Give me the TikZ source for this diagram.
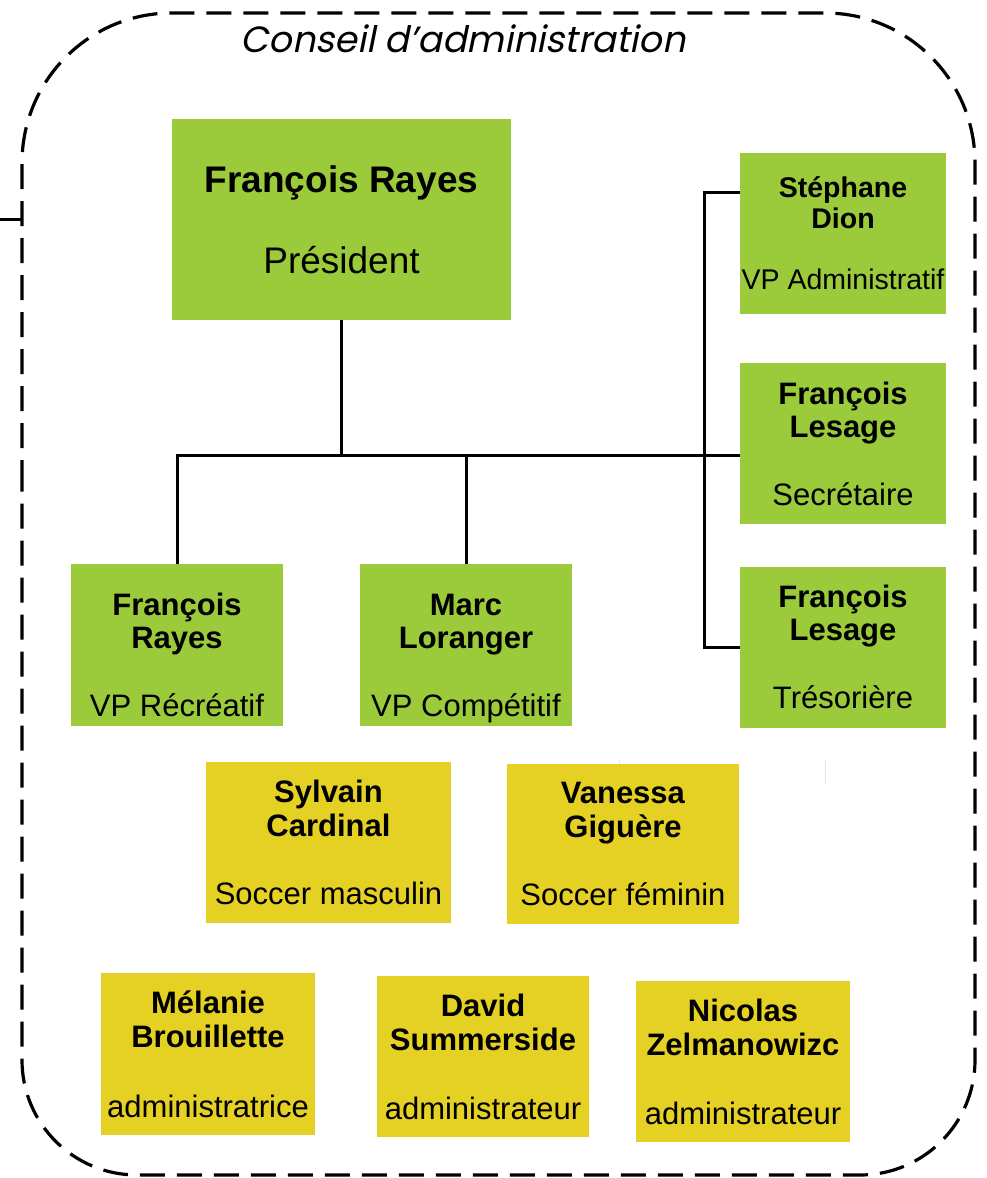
\documentclass[tikz,border=0pt]{standalone}
\usepackage{fontspec}
\setmainfont{Liberation Sans}
\newfontfamily\titlefont[FakeSlant=0.2]{Poppins}
\usetikzlibrary{calc}
\definecolor{boxgreen}{RGB}{155,203,59}
\definecolor{boxyellow}{RGB}{229,208,36}
\newcommand{\topgap}[1]{\rule{0pt}{#1}}

\begin{document}
\begin{tikzpicture}[x=1pt,y=-1pt,
  box/.style={inner sep=0pt, align=center, font=\fontsize{31}{33}\selectfont},
  greenbox/.style={box, fill=boxgreen},
  yellowbox/.style={box, fill=boxyellow, font=\fontsize{31}{34}\selectfont},
  link/.style={line width=3pt},
  frame/.style={line width=3.2pt, dash pattern=on 25pt off 12pt}]
  \useasboundingbox (0,0) rectangle (987,1178);

  % the board
  \draw [frame] (22,600) [rounded corners=150pt] -- (22,13) -- (975,13) -- (975,600)
    [rounded corners=115pt] -- (975,1175) -- (22,1175) -- cycle;
  \draw [line width=3pt] (0,219) -- (22,219);
  \node [font=\titlefont\fontsize{36.5}{40}\selectfont] (title) at (463,39) {Conseil d’administration};

  % executive
  \node [greenbox, minimum width=339pt, minimum height=201pt, font=\fontsize{37}{40}\selectfont]
    (pres) at (341.5,219.5) {\textbf{François Rayes}\\[41pt] Président};
  \node [greenbox, minimum width=206pt, minimum height=161pt, font=\fontsize{28.5}{31}\selectfont]
    (dion) at (843,233.5) {\textbf{Stéphane}\\ \textbf{Dion}\\[30pt] VP Administratif};
  \node [greenbox, minimum width=206pt, minimum height=161pt]
    (secr) at (843,443.5) {\textbf{François}\\ \textbf{Lesage}\\[35pt] Secrétaire};
  \node [greenbox, minimum width=206pt, minimum height=161pt]
    (tres) at (843,647) {\textbf{François}\\ \textbf{Lesage}\\[35pt] Trésorière};
  \node [greenbox, minimum width=212pt, minimum height=162pt]
    (recr) at (177,645) {\topgap{42pt}\textbf{François}\\ \textbf{Rayes}\\[35pt] VP Récréatif};
  \node [greenbox, minimum width=212pt, minimum height=162pt]
    (comp) at (466,645) {\topgap{49pt}\textbf{Marc}\\ \textbf{Loranger}\\[35pt] VP Compétitif};

  % soccer
  \node [yellowbox, minimum width=245pt, minimum height=161pt]
    (masc) at (328.5,842.5) {\textbf{Sylvain}\\ \textbf{Cardinal}\\[34pt] Soccer masculin};
  \node [yellowbox, minimum width=232pt, minimum height=160pt]
    (fem) at (623,844) {\textbf{Vanessa}\\ \textbf{Giguère}\\[34pt] Soccer féminin};

  % administrators
  \node [yellowbox, minimum width=214pt, minimum height=162pt]
    (mel) at (208,1054) {\textbf{Mélanie}\\ \textbf{Brouillette}\\[36pt] administratrice};
  \node [yellowbox, minimum width=212pt, minimum height=161pt]
    (david) at (483,1056.5) {\textbf{David}\\ \textbf{Summerside}\\[35pt] administrateur};
  \node [yellowbox, minimum width=214pt, minimum height=161pt]
    (nico) at (743,1061.5) {\textbf{Nicolas}\\ \textbf{Zelmanowizc}\\[35pt] administrateur};

  % links
  \coordinate (bus) at (0,455);
  \draw [link] (pres.south) -- (pres.south |- bus);
  \draw [link] (recr.north) |- (bus -| secr.west);
  \draw [link] (comp.north) -- (comp.north |- bus);
  \draw [link] ([yshift=41pt]dion.west) -| ([xshift=-35pt]tres.west) -- (tres.west);

  \draw [gray!20, line width=1pt] (619,759) -- (619,764);
  \draw [gray!20, line width=1pt] (825,759) -- (825,785);
\end{tikzpicture}
\end{document}
